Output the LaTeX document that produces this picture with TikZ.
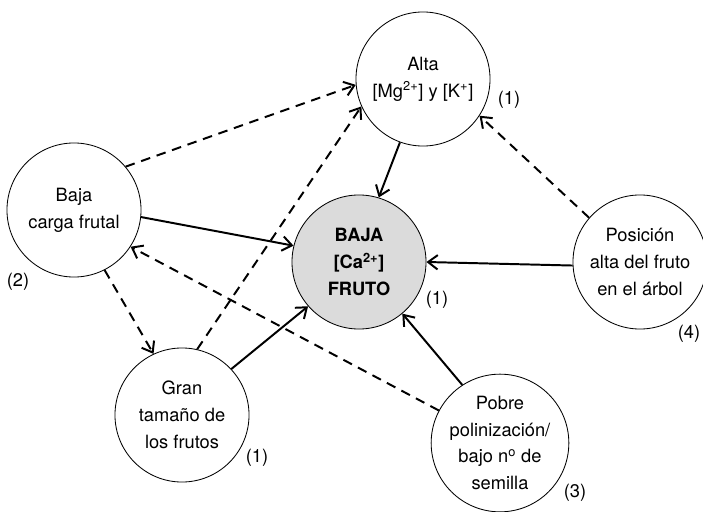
\documentclass[tikz,border=0pt]{standalone}
\usepackage{fontspec}
\setmainfont{TeX Gyre Heros}
\usetikzlibrary{arrows.meta}

\begin{document}
\begin{tikzpicture}[x=0.025cm,y=-0.025cm]
\useasboundingbox (0,0) rectangle (703,512);

\tikzset{>={Straight Barb[length=2.4mm,width=3.6mm]}}
\def\rd{3.35cm}
\tikzstyle{circ} = [
	draw, fill=white, circle, line width=0.6pt,
	minimum size=\rd, inner sep=0pt, align=center,
	font=\fontsize{13}{19}\selectfont ];
\tikzstyle{num} = [font=\fontsize{13}{19}\selectfont];
\tikzstyle{link} = [->, line width=1.4pt];
\tikzstyle{hint} = [->, line width=1.4pt, dash pattern=on 2.4mm off 1.7mm];

% circles
\node[circ] (mg) at (423,79) {Alta\\{}[Mg\textsuperscript{2+}] y [K\textsuperscript{+}]};
\node[circ] (carga) at (74,210) {Baja\\carga frutal};
\node[circ,fill=black!14,font=\fontsize{13}{19}\selectfont\bfseries] (ca) at (359,262) {BAJA\\{}[Ca\textsuperscript{2+}]\\FRUTO};
\node[circ] (pos) at (640,262) {Posición\\alta del fruto\\en el árbol};
\node[circ] (tam) at (182,415) {Gran\\tamaño de\\los frutos};
\node[circ] (pol) at (500,443) {Pobre\\polinización/\\bajo n\textsuperscript{o} de\\semilla};

% references
\node[num] (n1) at (509,100) {(1)};
\node[num] (n2) at (18,282) {(2)};
\node[num] (n3) at (437,300) {(1)};
\node[num] (n4) at (689,334) {(4)};
\node[num] (n5) at (257,458) {(1)};
\node[num] (n6) at (575,493) {(3)};

% dashed
\draw[hint] (carga.40) -- (mg.185);
\draw[hint] (tam.77) -- (mg.204);
\draw[hint] (pos.139) -- (mg.327);
\draw[hint] (carga.297) -- (tam.115);
\draw[hint] (pol.152) -- (carga.327);

% solid
\draw[link] (mg.250) -- (ca.73);
\draw[link] (carga.354) -- (ca.166);
\draw[link] (pos.183) -- (ca.0);
\draw[link] (tam.43) -- (ca.221);
\draw[link] (pol.123) -- (ca.310);

\end{tikzpicture}
\end{document}
